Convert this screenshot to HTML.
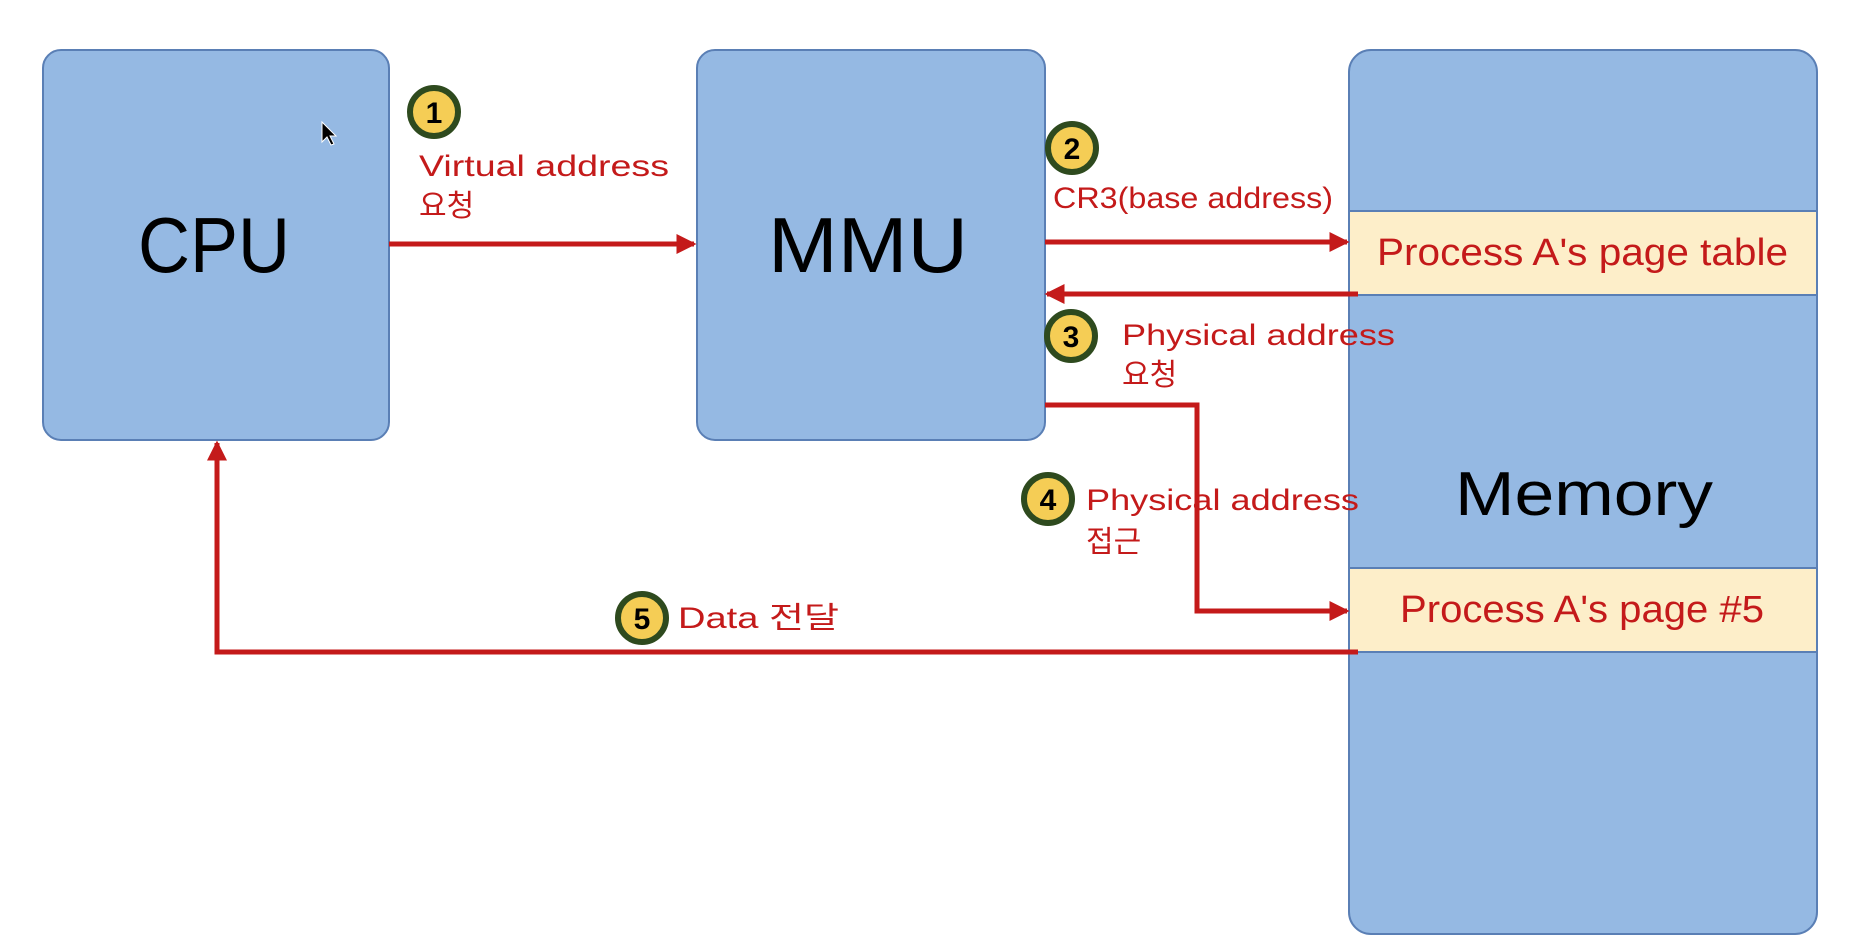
<!DOCTYPE html>
<html><head><meta charset="utf-8"><style>html,body{margin:0;padding:0;background:#fff;width:1852px;height:952px;overflow:hidden}</style></head>
<body>
<svg width="1852" height="952" viewBox="0 0 1852 952" xmlns="http://www.w3.org/2000/svg" font-family="'Liberation Sans','Noto Sans CJK KR',sans-serif">
<defs>
<marker id="ah" markerWidth="4" markerHeight="4" refX="3.5" refY="2" orient="auto" markerUnits="strokeWidth"><path d="M0,0 L4,2 L0,4 z" fill="#c41a1a"/></marker>
</defs>
<rect x="43" y="50" width="346" height="390" rx="18" fill="#95b9e3" stroke="#5a7fb5" stroke-width="2"/>
<rect x="697" y="50" width="348" height="390" rx="18" fill="#95b9e3" stroke="#5a7fb5" stroke-width="2"/>
<rect x="1349" y="50" width="468" height="884" rx="22" fill="#95b9e3" stroke="#5a7fb5" stroke-width="2"/>
<rect x="1349" y="211" width="468" height="84" fill="#fdeec9" stroke="#5a7fb5" stroke-width="2"/>
<rect x="1349" y="568" width="468" height="84" fill="#fdeec9" stroke="#5a7fb5" stroke-width="2"/>
<text x="214" y="272" font-size="78" text-anchor="middle" fill="#000" textLength="152" lengthAdjust="spacingAndGlyphs">CPU</text>
<text x="868" y="272" font-size="78" text-anchor="middle" fill="#000" textLength="200" lengthAdjust="spacingAndGlyphs">MMU</text>
<text x="1584" y="515" font-size="62" text-anchor="middle" fill="#000" textLength="258" lengthAdjust="spacingAndGlyphs">Memory</text>
<text x="1377" y="265" font-size="38" fill="#c41a1a" textLength="411" lengthAdjust="spacingAndGlyphs">Process A's page table</text>
<text x="1400" y="622" font-size="38" fill="#c41a1a" textLength="364" lengthAdjust="spacingAndGlyphs">Process A's page #5</text>
<g stroke="#c41a1a" stroke-width="5" fill="none">
<line x1="389" y1="244" x2="694" y2="244" marker-end="url(#ah)"/>
<line x1="1045" y1="242" x2="1347" y2="242" marker-end="url(#ah)"/>
<line x1="1358" y1="294" x2="1047" y2="294" marker-end="url(#ah)"/>
<polyline points="1045,405 1197,405 1197,611 1347,611" marker-end="url(#ah)"/>
<polyline points="1358,652 217,652 217,443" marker-end="url(#ah)"/>
</g>
<g font-size="30" fill="#c41a1a">
<text x="419" y="176" textLength="250" lengthAdjust="spacingAndGlyphs">Virtual address</text>
<text x="419" y="216">요청</text>
<text x="1053" y="208" textLength="280" lengthAdjust="spacingAndGlyphs">CR3(base address)</text>
<text x="1122" y="345" textLength="273" lengthAdjust="spacingAndGlyphs">Physical address</text>
<text x="1122" y="385">요청</text>
<text x="1086" y="510" textLength="273" lengthAdjust="spacingAndGlyphs">Physical address</text>
<text x="1086" y="552">접근</text>
<text x="678" y="628" textLength="161" lengthAdjust="spacingAndGlyphs">Data 전달</text>
</g>
<g font-size="30" font-weight="bold" text-anchor="middle" fill="#000">
<circle cx="434" cy="112" r="24" fill="#f5cd55" stroke="#2e4a1e" stroke-width="6"/><text x="434" y="123">1</text>
<circle cx="1072" cy="148" r="24" fill="#f5cd55" stroke="#2e4a1e" stroke-width="6"/><text x="1072" y="159">2</text>
<circle cx="1071" cy="336" r="24" fill="#f5cd55" stroke="#2e4a1e" stroke-width="6"/><text x="1071" y="347">3</text>
<circle cx="1048" cy="499" r="24" fill="#f5cd55" stroke="#2e4a1e" stroke-width="6"/><text x="1048" y="510">4</text>
<circle cx="642" cy="618" r="24" fill="#f5cd55" stroke="#2e4a1e" stroke-width="6"/><text x="642" y="629">5</text>
</g>
<path d="M322,122 L322,142 L327,137 L331,145 L334,144 L330,136 L336,136 z" fill="#000" stroke="#fff" stroke-width="1"/>
</svg>
</body></html>
